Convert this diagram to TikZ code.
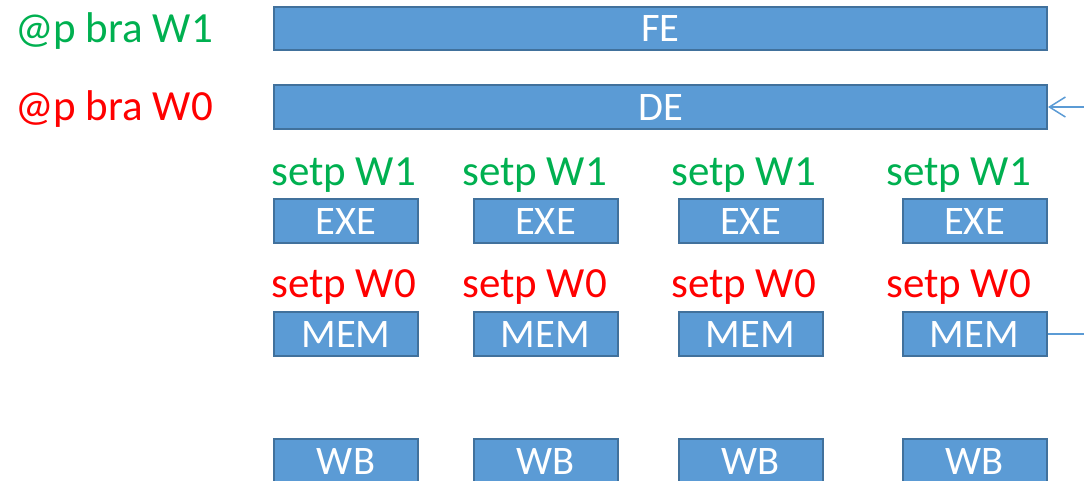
\documentclass[tikz,border=0pt]{standalone}
\usepackage{fontspec}
\setmainfont{Carlito}
\usetikzlibrary{arrows.meta}
\definecolor{boxfill}{HTML}{5B9BD5}
\definecolor{boxline}{HTML}{41719C}
\definecolor{lblgreen}{HTML}{00B050}
\definecolor{lblred}{HTML}{FF0000}
\tikzset{
  stagebox/.style={draw=boxline, line width=2pt, fill=boxfill, text=white,
    inner sep=0pt, text height=26pt, text depth=0pt,
    font=\fontsize{40.5}{48}\selectfont},
  widebox/.style={stagebox, minimum width=773pt, minimum height=43pt},
  smallbox/.style={stagebox, minimum width=144pt, minimum height=44pt},
  lbl/.style={anchor=base west, inner sep=0pt, font=\fontsize{43}{50}\selectfont},
  glbl/.style={lbl, text=lblgreen},
  rlbl/.style={lbl, text=lblred},
  conn/.style={draw=boxfill, line width=1.5pt}
}
\begin{document}
\begin{tikzpicture}[x=1pt,y=-1pt]
\useasboundingbox (0,0) rectangle (1084,480);
\clip (0,0) rectangle (1084,480);
% left labels
\node[glbl] (l1) at (15,42) {@p bra W1};
\node[rlbl] (l0) at (15,120) {@p bra W0};
% wide boxes
\node[widebox] (fe) at (660.5,28.5) {FE};
\node[widebox, minimum height=44pt] (de) at (660.5,107) {DE};
% columns
\foreach \i/\cx/\lx in {1/346/271, 2/545.5/462, 3/750.5/671, 4/974.5/886} {
  \node[glbl] (s1\i) at (\lx,185) {setp W1};
  \node[smallbox] (exe\i) at (\cx,221) {EXE};
  \node[rlbl] (s0\i) at (\lx,297) {setp W0};
  \node[smallbox] (mem\i) at (\cx,334) {MEM};
  \node[smallbox] (wb\i) at (\cx,461) {WB};
}
% connectors
\coordinate (arrin) at (1084,107);
\coordinate (memout) at (1084,334);
\draw[conn, -{Straight Barb[length=16pt,width=20pt,line width=1.5pt]}] (arrin) -- (de.east);
\draw[conn] (mem4.east) -- (memout);
\end{tikzpicture}
\end{document}
